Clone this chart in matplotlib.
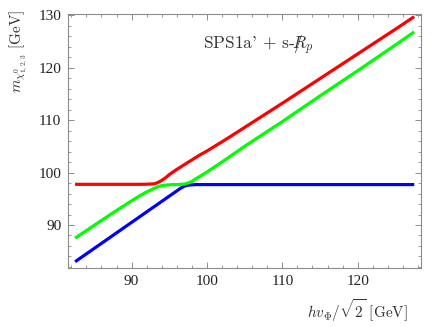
import matplotlib
matplotlib.use("Agg")
import matplotlib.pyplot as plt
from matplotlib.ticker import MultipleLocator

plt.rcParams['mathtext.fontset'] = 'cm'
plt.rcParams['font.family'] = ['Liberation Serif', 'DejaVu Serif']

x = [82.5, 85, 87.5, 90, 91, 92, 93, 93.5, 94, 94.5, 95, 95.5, 96, 96.5,
     97, 97.5, 98, 98.5, 99, 100, 102.5, 105, 110, 115, 120, 125, 127.5]

m_red = [97.75, 97.75, 97.75, 97.75, 97.75, 97.77, 97.85, 98.1, 98.5, 99.0,
         99.6, 100.1, 100.6, 101.05, 101.5, 101.95, 102.4, 102.85, 103.3,
         104.1, 106.3, 108.6, 113.2, 117.9, 122.6, 127.3, 129.7]

m_green = [87.5, 89.9, 92.3, 94.6, 95.5, 96.3, 97.0, 97.3, 97.5, 97.6,
           97.65, 97.7, 97.7, 97.75, 97.8, 98.0, 98.3, 98.8, 99.2,
           100.1, 102.5, 105.0, 109.7, 114.6, 119.4, 124.3, 126.8]

m_blue = [83.0, 85.5, 88.0, 90.5, 91.5, 92.5, 93.5, 94.0, 94.5, 95.0,
          95.5, 96.0, 96.5, 97.0, 97.4, 97.6, 97.65, 97.7, 97.7,
          97.7, 97.7, 97.7, 97.7, 97.7, 97.7, 97.7, 97.7]

fig = plt.figure(figsize=(4.36, 3.27), dpi=100)
ax = fig.add_axes([68.3/436, 1 - 268.3/327, (421 - 68.3)/436, (268.3 - 13.5)/327])

lw = 2.3
ax.plot(x, m_blue, color='#0000ff', lw=lw, solid_capstyle='butt')
ax.plot(x, m_green, color='#00ff00', lw=lw, solid_capstyle='butt')
ax.plot(x, m_red, color='#ff0000', lw=lw, solid_capstyle='butt')

ax.set_xlim(81.6, 128.4)
ax.set_ylim(81.75, 130.3)

ax.xaxis.set_major_locator(MultipleLocator(10))
ax.xaxis.set_minor_locator(MultipleLocator(2))
ax.yaxis.set_major_locator(MultipleLocator(10))
ax.yaxis.set_minor_locator(MultipleLocator(2))

frame_col = '#8c8c8c'
for s in ax.spines.values():
    s.set_color(frame_col)
    s.set_linewidth(0.8)
ax.tick_params(which='both', direction='in', top=True, right=True,
               color=frame_col, labelsize=11, labelcolor='#222222')
ax.tick_params(which='major', length=4.5, width=0.7, pad=5)
ax.tick_params(which='minor', length=2.5, width=0.6)

ax.set_xlabel(r'$hv_\Phi/\sqrt{2}\ [\mathrm{GeV}]$', fontsize=11, color='#333333')
ax.xaxis.set_label_coords(0.963, -0.164)
ax.xaxis.label.set_ha('right')
ax.xaxis.label.set_va('center')

ax.set_ylabel(r'$m_{\chi^0_{1,2,3}}\ [\mathrm{GeV}]$', fontsize=11, color='#333333')
ax.yaxis.set_label_coords(-0.143, 1.014)
ax.yaxis.label.set_va('center')
ax.yaxis.label.set_ha('right')

ax.text(0.539, 0.876, r"SPS1a' + s-$/\!\!\!\!R_p$", transform=ax.transAxes,
        ha='center', va='center', fontsize=12.5, color='#333333',
        family=['cmr10', 'DejaVu Serif'])

fig.savefig('out.png', dpi=100)
